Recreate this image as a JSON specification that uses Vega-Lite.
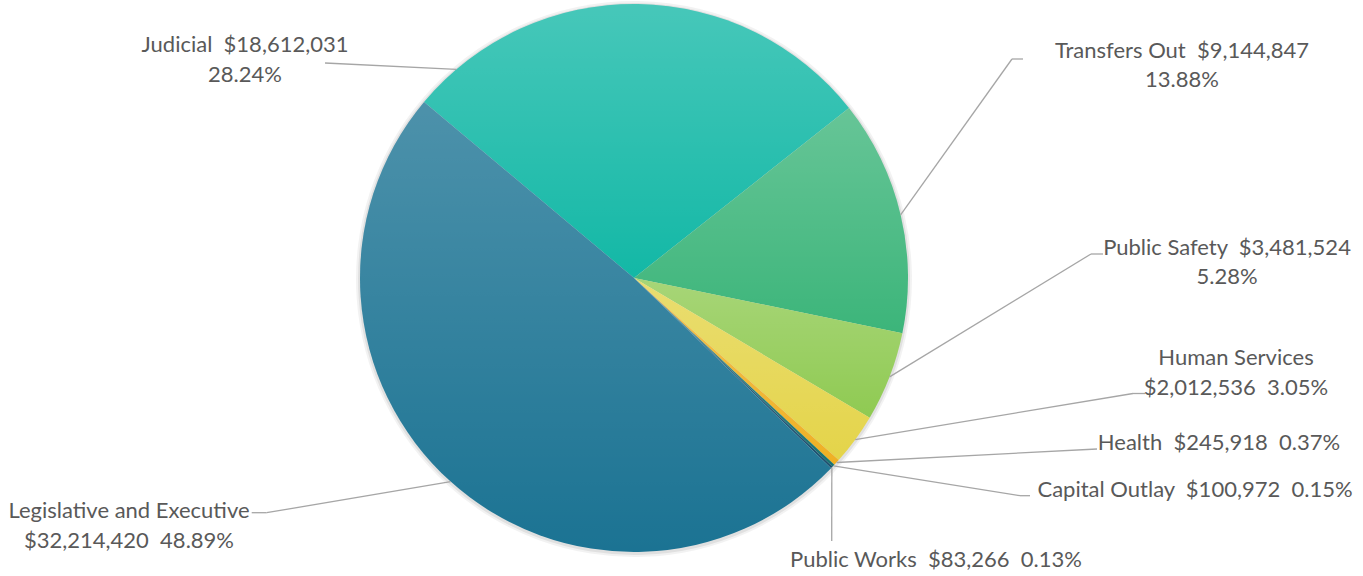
{
  "$schema": "https://vega.github.io/schema/vega-lite/v6.json",
  "width": 1268,
  "height": 556,
  "autosize": {"type": "none"},
  "padding": {"left": 0, "top": 0, "right": 95, "bottom": 20},
  "background": "white",
  "config": {"view": {"stroke": null}},
  "data": {
    "values": [
      {"category": "Judicial", "amount": 18612031},
      {"category": "Transfers Out", "amount": 9144847},
      {"category": "Public Safety", "amount": 3481524},
      {"category": "Human Services", "amount": 2012536},
      {"category": "Health", "amount": 245918},
      {"category": "Capital Outlay", "amount": 100972},
      {"category": "Public Works", "amount": 83266},
      {"category": "Legislative and Executive", "amount": 32214420}
    ]
  },
  "transform": [
    {"joinaggregate": [{"op": "sum", "field": "amount", "as": "total"}]},
    {"window": [{"op": "row_number", "as": "idx"}, {"op": "sum", "field": "amount", "as": "cum"}], "frame": [null, 0]},
    {"calculate": "'$' + format(datum.amount, ',')", "as": "money"},
    {"calculate": "format(datum.amount / datum.total, '.2%')", "as": "pctText"},
    {"calculate": "indexof(['Judicial','Transfers Out','Public Safety'], datum.category) >= 0 ? datum.category + ' \u00a0' + datum.money + '\\n' + datum.pctText : (indexof(['Human Services','Legislative and Executive'], datum.category) >= 0 ? datum.category + '\\n' + datum.money + ' \u00a0' + datum.pctText : datum.category + ' \u00a0' + datum.money + ' \u00a0' + datum.pctText)", "as": "label"},
    {"calculate": "datum.category == 'Judicial' ? 5.578 : 5.4105 + 2 * PI * (datum.cum - datum.amount / 2) / datum.total", "as": "anchorAngle"},
    {"calculate": "274 * sin(datum.anchorAngle)", "as": "sx"},
    {"calculate": "-274 * cos(datum.anchorAngle)", "as": "sy"},
    {"calculate": "({'Judicial': -389, 'Transfers Out': 548, 'Public Safety': 593, 'Human Services': 602, 'Health': 585, 'Capital Outlay': 561, 'Public Works': 302, 'Legislative and Executive': -505})[datum.category]", "as": "lx"},
    {"calculate": "({'Judicial': -226, 'Transfers Out': -220.5, 'Public Safety': -23.5, 'Human Services': 87, 'Health': 172, 'Capital Outlay': 219, 'Public Works': 289, 'Legislative and Executive': 240})[datum.category]", "as": "ly"},
    {"calculate": "({'Judicial': -309, 'Transfers Out': 378, 'Public Safety': 457, 'Human Services': 499, 'Health': 463, 'Capital Outlay': 386, 'Public Works': 197.7, 'Legislative and Executive': -367.3})[datum.category]", "as": "ex"},
    {"calculate": "({'Judicial': -215, 'Transfers Out': -219, 'Public Safety': -24, 'Human Services': 115.5, 'Health': 171, 'Capital Outlay': 217.7, 'Public Works': 263, 'Legislative and Executive': 234.7})[datum.category]", "as": "ey"},
    {"calculate": "({'Judicial': null, 'Transfers Out': 389, 'Public Safety': 469, 'Human Services': 511, 'Health': null, 'Capital Outlay': 396, 'Public Works': null, 'Legislative and Executive': -382.3})[datum.category]", "as": "tx"}
  ],
  "layer": [
    {
      "mark": {"type": "arc", "outerRadius": 278, "stroke": null, "fill": "#000000", "opacity": 0.05, "yOffset": 1},
      "encoding": {
        "theta": {"field": "amount", "type": "quantitative", "stack": true, "scale": {"range": [5.4105, 11.6937]}},
        "detail": {"field": "category", "type": "nominal"},
        "order": {"field": "idx", "type": "quantitative"}
      }
    },
    {
      "mark": {"type": "arc", "outerRadius": 276, "stroke": null, "fill": "#000000", "opacity": 0.07, "yOffset": 1},
      "encoding": {
        "theta": {"field": "amount", "type": "quantitative", "stack": true},
        "detail": {"field": "category", "type": "nominal"},
        "order": {"field": "idx", "type": "quantitative"}
      }
    },
    {
      "mark": {"type": "arc", "outerRadius": 274, "stroke": null},
      "encoding": {
        "theta": {"field": "amount", "type": "quantitative", "stack": true},
        "color": {
          "field": "category",
          "type": "nominal",
          "legend": null,
          "scale": {
            "domain": ["Judicial", "Transfers Out", "Public Safety", "Human Services", "Health", "Capital Outlay", "Public Works", "Legislative and Executive"],
            "range": ["#13b8a6", "#3cb57a", "#8fca52", "#e4d449", "#efb023", "#177272", "#1b4f6e", "#1b7393"]
          }
        },
        "order": {"field": "idx", "type": "quantitative"}
      }
    },
    {
      "mark": {
        "type": "arc",
        "outerRadius": 274,
        "stroke": null,
        "fill": {
          "gradient": "linear", "x1": 0, "y1": 0, "x2": 0, "y2": 1,
          "stops": [
            {"offset": 0, "color": "rgba(255,255,255,0.22)"},
            {"offset": 1, "color": "rgba(255,255,255,0)"}
          ]
        }
      },
      "encoding": {
        "theta": {"field": "amount", "type": "quantitative", "stack": true},
        "detail": {"field": "category", "type": "nominal"},
        "order": {"field": "idx", "type": "quantitative"}
      }
    },
    {
      "mark": {"type": "rule", "color": "#a6a6a6", "strokeWidth": 1.3},
      "encoding": {
        "x": {"field": "sx", "type": "quantitative", "axis": null, "scale": {"domain": [-634, 634], "nice": false, "zero": false}},
        "y": {"field": "sy", "type": "quantitative", "axis": null, "scale": {"domain": [-278, 278], "reverse": true, "nice": false, "zero": false}},
        "x2": {"field": "ex"},
        "y2": {"field": "ey"}
      }
    },
    {
      "transform": [{"filter": "isValid(datum.tx)"}],
      "mark": {"type": "rule", "color": "#a6a6a6", "strokeWidth": 1.3},
      "encoding": {
        "x": {"field": "ex", "type": "quantitative"},
        "y": {"field": "ey", "type": "quantitative"},
        "x2": {"field": "tx"}
      }
    },
    {
      "mark": {"type": "text", "font": "Lato", "fontSize": 22, "fill": "#595959", "align": "center", "baseline": "alphabetic", "lineBreak": "\n", "lineHeight": 29.5},
      "encoding": {
        "x": {"field": "lx", "type": "quantitative"},
        "y": {"field": "ly", "type": "quantitative"},
        "text": {"field": "label", "type": "nominal"}
      }
    }
  ]
}
